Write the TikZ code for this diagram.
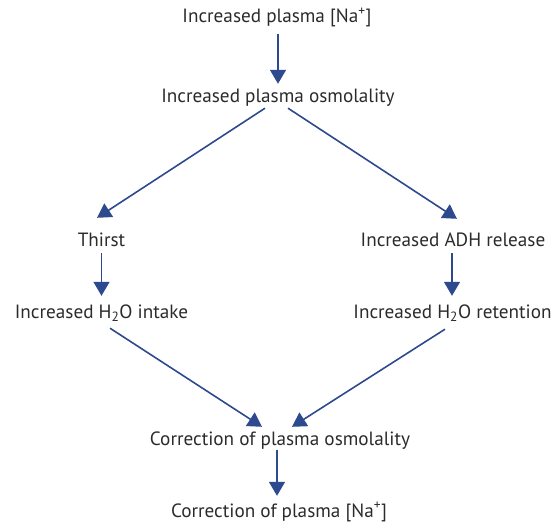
\documentclass[tikz,border=0pt]{standalone}
\usepackage{fontspec}
\setmainfont{PT Sans}
\usetikzlibrary{arrows.meta}
\definecolor{txt}{HTML}{2B2B2B}
\definecolor{arrblue}{HTML}{2E4A8E}
\tikzset{
  lbl/.style={anchor=base, inner sep=0pt, text height=14pt, text depth=4pt, text=txt,
    font=\fontsize{19.2}{23}\selectfont},
  arr/.style={draw=arrblue, line width=1.6pt, -{Triangle[width=16pt,length=14pt]}, fill=arrblue}
}
\begin{document}
\begin{tikzpicture}[x=1pt,y=-1pt]
\useasboundingbox (0,0) rectangle (560,522);
\node[lbl] (na) at (277,23) {Increased plasma [Na\textsuperscript{+}]};
\node[lbl] (osm) at (278,102) {Increased plasma osmolality};
\node[lbl] (thirst) at (101.5,246) {Thirst};
\node[lbl] (adh) at (453,246) {Increased ADH release};
\node[lbl] (intake) at (101.5,318) {Increased H\textsubscript{2}O intake};
\node[lbl] (ret) at (452.5,318) {Increased H\textsubscript{2}O retention};
\node[lbl] (cosm) at (280,445) {Correction of plasma osmolality};
\node[lbl] (cna) at (279,517) {Correction of plasma [Na\textsuperscript{+}]};
\draw[arr] ([xshift=1pt,yshift=-7pt]na.south) -- ([yshift=4pt]osm.north);
\draw[arr] ([xshift=-13pt,yshift=-2pt]osm.south) -- ([xshift=-4.5pt,yshift=14pt]thirst.north);
\draw[arr] ([xshift=10pt,yshift=-2pt]osm.south) -- ([xshift=4pt,yshift=13pt]adh.north);
\draw[arr] ([yshift=-3pt]thirst.south) -- ([yshift=8pt]intake.north);
\draw[arr] ([xshift=-1pt,yshift=-3pt]adh.south) -- ([xshift=-0.5pt,yshift=8pt]ret.north);
\draw[arr] ([xshift=8.5pt,yshift=-6pt]intake.south) -- ([xshift=-18pt,yshift=4pt]cosm.north);
\draw[arr] ([xshift=-7.5pt,yshift=-7pt]ret.south) -- ([xshift=12pt,yshift=4pt]cosm.north);
\draw[arr] ([xshift=-3pt,yshift=-1pt]cosm.south) -- ([xshift=-2pt,yshift=7pt]cna.north);
\end{tikzpicture}
\end{document}
